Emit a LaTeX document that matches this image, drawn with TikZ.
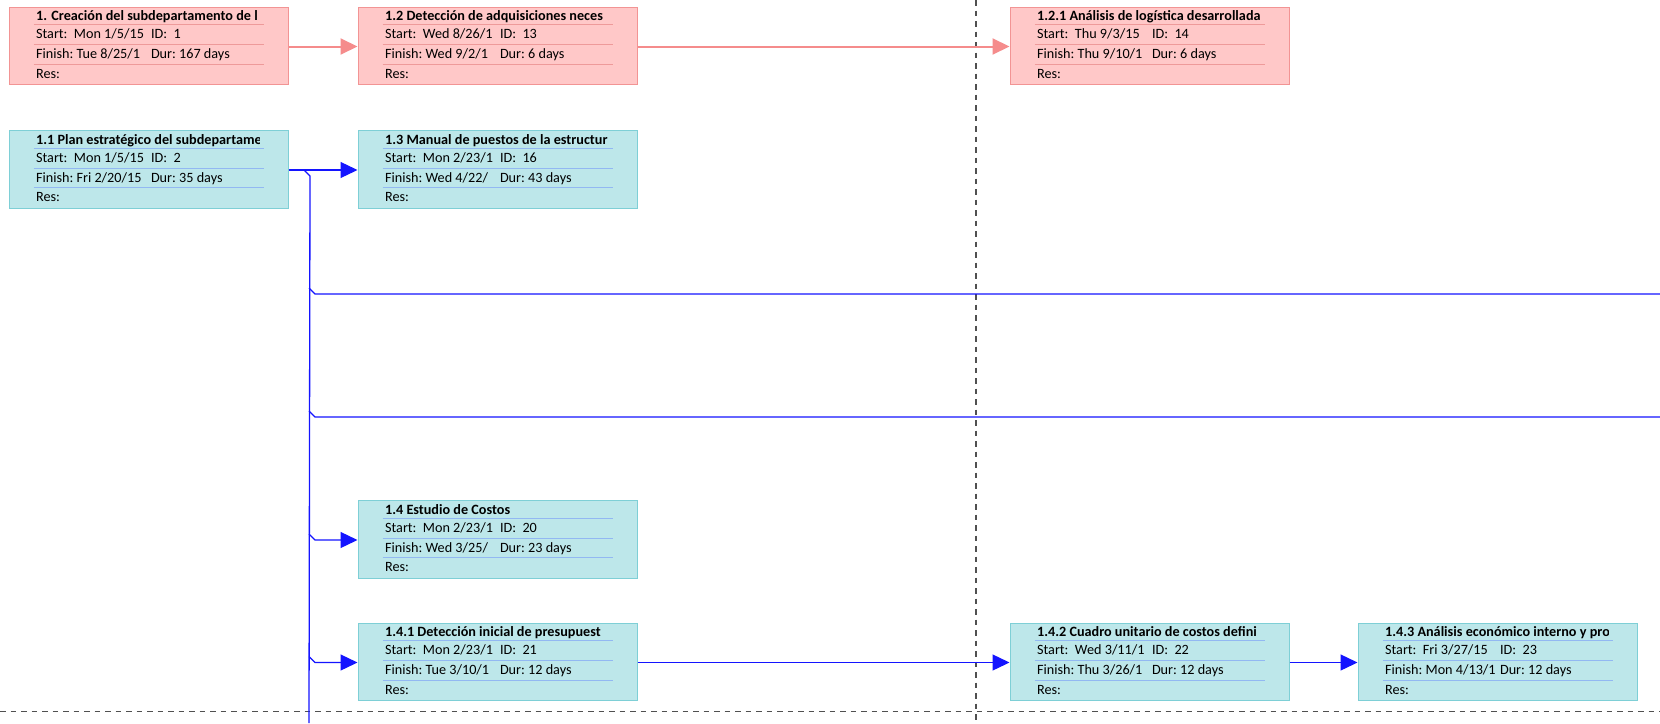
\documentclass[tikz,border=0pt]{standalone}
\usepackage{fontspec}
\setmainfont{Carlito}
\usetikzlibrary{arrows.meta,calc}

\definecolor{pinkfill}{HTML}{FFC8C8}
\definecolor{pinkedge}{HTML}{F29494}
\definecolor{pinkrule}{HTML}{EE9A9A}
\definecolor{pinkwire}{HTML}{F58C8C}
\definecolor{cyanfill}{HTML}{BDE7EA}
\definecolor{cyanedge}{HTML}{7ECFD6}
\definecolor{cyanrule}{HTML}{92B8F2}
\definecolor{bluewire}{HTML}{1414FF}
\definecolor{pagerule}{HTML}{505050}

\tikzset{
  taskframe/.style={draw, rectangle, anchor=north west, inner sep=0pt,
    minimum width=279pt, minimum height=77.5pt, line width=1pt},
  pinkbox/.style={fill=pinkfill, draw=pinkedge},
  cyanbox/.style={fill=cyanfill, draw=cyanedge},
  pinksep/.style={draw=pinkrule, line width=0.9pt},
  cyansep/.style={draw=cyanrule, line width=0.9pt},
  celltext/.style={anchor=base west, inner sep=0pt, outer sep=0pt,
    font=\fontsize{14.2}{16}\selectfont},
  pinkline/.style={draw=pinkwire, line width=2pt},
  blueline/.style={draw=bluewire, line width=1.3pt},
  pinktip/.style={-{Triangle[length=17pt,width=16pt]}},
  bluetip/.style={-{Triangle[length=17pt,width=16pt]}},
  pagebreak/.style={draw=pagerule, line width=1.2pt, dash pattern=on 5.5pt off 5pt},
}

% One task box: name, position, colour kind, title, start, id, finish, duration
\newcommand\taskbox[8]{%
  \node[taskframe,#3box] (#1) at #2 {};
  \foreach \dy in {18.3,38,57.7}
    \draw[#3sep] ([xshift=25pt,yshift=-\dy pt]#1.north west) -- ++(230,0);
  \begin{scope}
    \clip ([xshift=25pt,yshift=-1pt]#1.north west) rectangle ([xshift=251pt,yshift=-18pt]#1.north west);
    \node[celltext,font=\fontsize{14.2}{16}\selectfont\bfseries] (#1-title)
      at ([xshift=27.6pt,yshift=-14pt]#1.north west) {#4};
  \end{scope}
  \begin{scope}
    \clip ([xshift=25pt,yshift=-19pt]#1.north west) rectangle ([xshift=138.5pt,yshift=-57pt]#1.north west);
    \node[celltext] (#1-start) at ([xshift=27.6pt,yshift=-32.3pt]#1.north west) {Start:~~#5};
    \node[celltext] (#1-finish) at ([xshift=27.6pt,yshift=-52.3pt]#1.north west) {Finish:~#7};
  \end{scope}
  \node[celltext] (#1-id) at ([xshift=142.5pt,yshift=-32.3pt]#1.north west) {ID:~~#6};
  \node[celltext] (#1-dur) at ([xshift=142.5pt,yshift=-52.3pt]#1.north west) {Dur:~#8};
  \node[celltext] (#1-res) at ([xshift=27.6pt,yshift=-71.7pt]#1.north west) {Res:};
}

\begin{document}
\begin{tikzpicture}[x=1pt,y=-1pt]
  \useasboundingbox[fill=white] (0,0) rectangle (1660,723);

  % page boundaries
  \coordinate (vtop) at (976,0);
  \coordinate (vbot) at (976,723);
  \coordinate (hleft) at (0,711.5);
  \coordinate (hright) at (1660,711.5);
  \draw[pagebreak] (vtop) -- (vbot);
  \draw[pagebreak] (hleft) -- (hright);

  % tasks
  \taskbox{b1}{(8.5,6.5)}{pink}{1. Creación del subdepartamento de l}{Mon 1/5/15}{1}{Tue 8/25/1}{167 days}
  \taskbox{b12}{(357.5,6.5)}{pink}{1.2 Detección de adquisiciones neces}{Wed 8/26/1}{13}{Wed 9/2/1}{6 days}
  \taskbox{b121}{(1009.5,6.5)}{pink}{1.2.1 Análisis de logística desarrollada}{Thu 9/3/15~}{14}{Thu 9/10/1}{6 days}
  \taskbox{b11}{(8.5,130)}{cyan}{1.1 Plan estratégico del subdepartame}{Mon 1/5/15}{2}{Fri 2/20/15}{35 days}
  \taskbox{b13}{(357.5,130)}{cyan}{1.3 Manual de puestos de la estructur}{Mon 2/23/1}{16}{Wed 4/22/}{43 days}
  \taskbox{b14}{(357.5,500)}{cyan}{1.4 Estudio de Costos}{Mon 2/23/1}{20}{Wed 3/25/}{23 days}
  \taskbox{b141}{(357.5,622.5)}{cyan}{1.4.1 Detección inicial de presupuest}{Mon 2/23/1}{21}{Tue 3/10/1}{12 days}
  \taskbox{b142}{(1009.5,622.5)}{cyan}{1.4.2 Cuadro unitario de costos defini}{Wed 3/11/1}{22}{Thu 3/26/1}{12 days}
  \taskbox{b143}{(1357.5,622.5)}{cyan}{1.4.3 Análisis económico interno y pro}{Fri 3/27/15~}{23}{Mon 4/13/1}{12 days}

  % pink links
  \draw[pinkline,pinktip] ([yshift=-40pt]b1.north east) -- ([yshift=-40pt]b12.north west);
  \draw[pinkline,pinktip] ([yshift=-40pt]b12.north east) -- ([yshift=-40pt]b121.north west);

  % blue links
  \draw[blueline,bluetip] ([yshift=-40pt]b11.north east) -- ([yshift=-40pt]b13.north west);
  \coordinate (trunkend) at (309,723);
  \draw[blueline] ([xshift=15.5pt,yshift=-40pt]b11.north east) -- ++(6,6) -- (trunkend);

  \coordinate (endA) at (1660,294);
  \coordinate (endB) at (1660,417);
  \draw[blueline] ($(endA -| trunkend)+(0,-6)$) -- ++(6,6) -- (endA);
  \draw[blueline] ($(endB -| trunkend)+(0,-6)$) -- ++(6,6) -- (endB);

  \coordinate (b14in) at ([yshift=-40pt]b14.north west);
  \coordinate (b141in) at ([yshift=-40pt]b141.north west);
  \draw[blueline,bluetip] ($(b14in -| trunkend)+(0,-6)$) -- ++(6,6) -- (b14in);
  \draw[blueline,bluetip] ($(b141in -| trunkend)+(0,-6)$) -- ++(6,6) -- (b141in);

  \draw[blueline,bluetip] ([yshift=-40pt]b141.north east) -- ([yshift=-40pt]b142.north west);
  \draw[blueline,bluetip] ([yshift=-40pt]b142.north east) -- ([yshift=-40pt]b143.north west);
\end{tikzpicture}
\end{document}
